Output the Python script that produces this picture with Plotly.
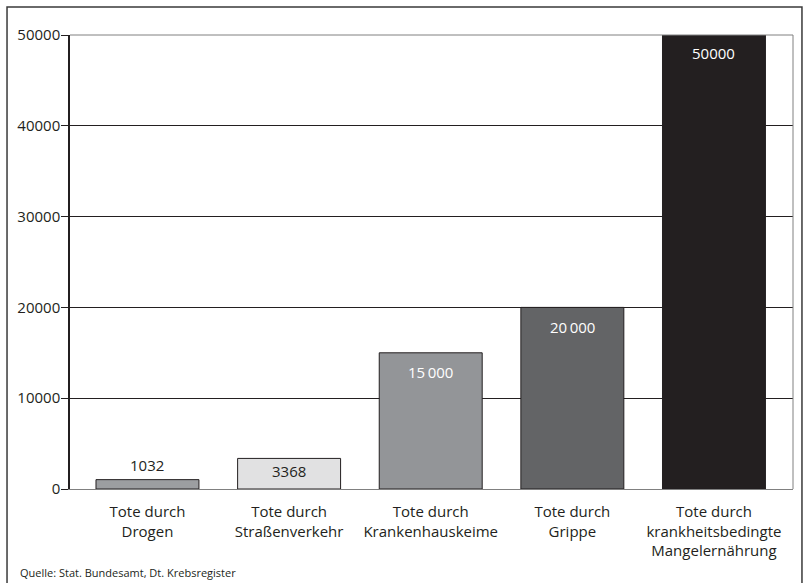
import plotly.graph_objects as go

categories = [
    "Tote durch<br>Drogen",
    "Tote durch<br>Straßenverkehr",
    "Tote durch<br>Krankenhauskeime",
    "Tote durch<br>Grippe",
    "Tote durch<br>krankheitsbedingte<br>Mangelernährung",
]
values = [1032, 3368, 15000, 20000, 50000]
value_labels = ["1032", "3368", "15\u2009000", "20\u2009000", "50000"]
y_ticks = [0, 10000, 20000, 30000, 40000, 50000]
source = "Quelle: Stat. Bundesamt, Dt. Krebsregister"

bar_colors = ["#9c9ea1", "#e1e1e2", "#939598", "#636466", "#231f20"]
label_colors = ["#231f20", "#231f20", "#ffffff", "#ffffff", "#ffffff"]
label_anchor = ["bottom", "top", "top", "top", "top"]
label_shift = [3, -1, -7, -8, -6]

FONT = "Open Sans, Noto Sans, sans-serif"
x_idx = list(range(len(categories)))

fig = go.Figure()
fig.add_trace(go.Bar(
    x=x_idx, y=values, width=0.727,
    marker=dict(color=bar_colors, line=dict(color="#231f20", width=1)),
    hoverinfo="skip",
))

for i, (v, t) in enumerate(zip(values, value_labels)):
    fig.add_annotation(
        x=i, y=v, xref="x", yref="y", text=t, showarrow=False,
        yanchor=label_anchor[i], yshift=label_shift[i],
        font=dict(family=FONT, size=15, color=label_colors[i]),
    )

fig.add_annotation(
    x=-0.072, y=-0.185, xref="paper", yref="paper", text=source,
    showarrow=False, xanchor="left", yanchor="middle",
    font=dict(family=FONT, size=11, color="#231f20"),
)

# outer frame
fig.add_shape(type="rect", xref="paper", yref="paper",
              x0=-0.0871, x1=1.0124, y0=-0.25, y1=1.0617,
              line=dict(color="#3a3a3a", width=1.5), fillcolor="rgba(0,0,0,0)")
# plot frame top/right in grey
fig.add_shape(type="line", xref="paper", yref="paper", x0=1, x1=1, y0=0, y1=1,
              line=dict(color="#808080", width=1))
fig.add_shape(type="line", xref="paper", yref="paper", x0=0, x1=1, y0=1, y1=1,
              line=dict(color="#808080", width=1))

fig.update_layout(
    width=807, height=583,
    margin=dict(l=70, r=14, t=35, b=94),
    paper_bgcolor="white", plot_bgcolor="white",
    showlegend=False,
    font=dict(family=FONT, size=15, color="#231f20"),
    bargap=0.27,
)
fig.update_xaxes(
    range=[-0.547, 4.558], tickmode="array", tickvals=x_idx, ticktext=categories,
    showgrid=False, zeroline=False, showline=True, linecolor="#808080", linewidth=1,
    ticks="", ticklabelstandoff=9, tickfont=dict(family=FONT, size=15, color="#231f20"),
    fixedrange=True,
)
fig.update_yaxes(
    range=[0, 50000], tickmode="array", tickvals=y_ticks,
    ticktext=[str(t) for t in y_ticks],
    showgrid=True, gridcolor="#231f20", gridwidth=1,
    zeroline=False, showline=True, linecolor="#231f20", linewidth=1.5,
    ticks="outside", ticklen=7, tickcolor="#231f20", tickwidth=1,
    ticklabelstandoff=-2,
    tickfont=dict(family=FONT, size=15, color="#231f20"),
    fixedrange=True,
)

fig.write_html("out.html", config={"displayModeBar": False},
               post_script="document.body.style.margin='0';document.body.style.overflow='hidden';")
